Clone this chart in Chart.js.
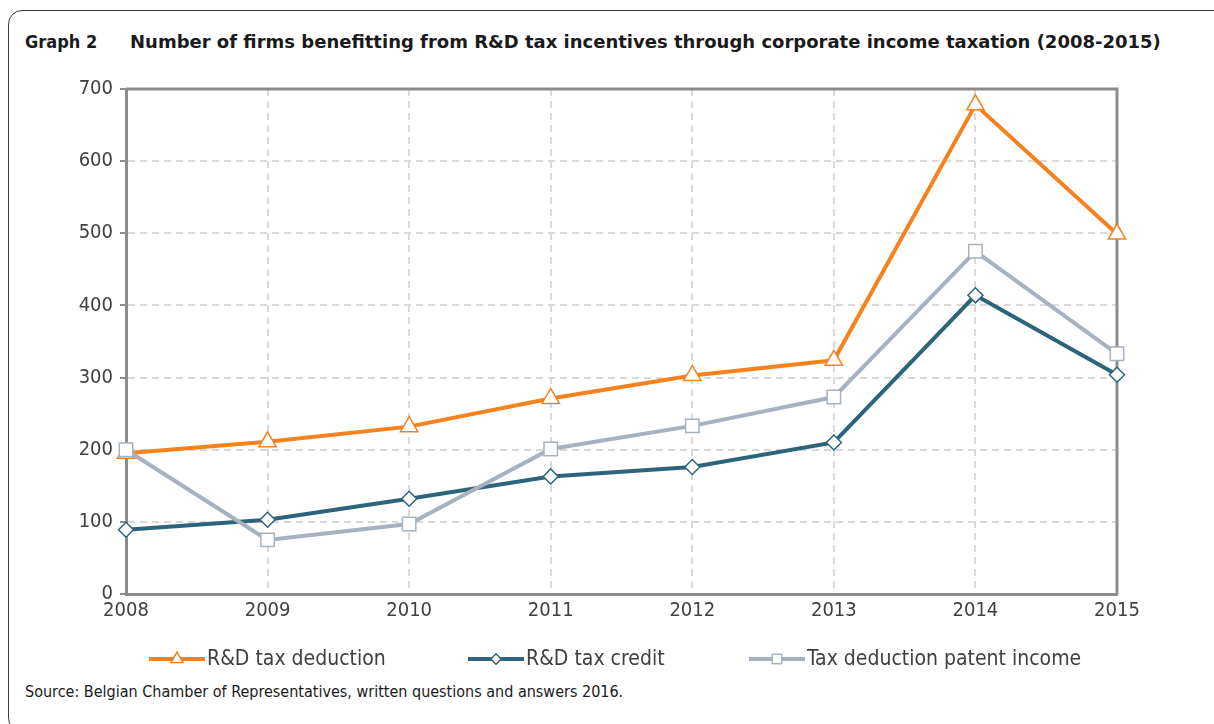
<!DOCTYPE html>
<html>
<head>
<meta charset="utf-8">
<script src="https://cdn.jsdelivr.net/npm/chart.js@4.4.1/dist/chart.umd.min.js"></script>
<style>
  body { margin: 0; background: #fff; }
  #wrap { position: relative; width: 1214px; height: 724px; overflow: hidden; background: #fff; }
  #frame { position: absolute; left: 8px; top: 10px; width: 1220px; height: 722px; border: 1.5px solid #3a3a3a; border-radius: 14px; box-sizing: border-box; }
  #title { position: absolute; left: 25px; top: 31px; font: bold 18px "DejaVu Sans", sans-serif; color: #1a1a1a; white-space: nowrap; }
  #title .num { display: inline-block; width: 105px; font-family: "DejaVu Sans Condensed", "DejaVu Sans", sans-serif; }
  #source { position: absolute; left: 25px; top: 682px; font: 16px "DejaVu Sans Condensed", "DejaVu Sans", sans-serif; color: #1a1a1a; white-space: nowrap; }
  #box { position: absolute; left: 0; top: 70px; width: 1214px; height: 611px; }
</style>
</head>
<body>
<div id="wrap">
  <div id="frame"></div>
  <div id="title"><span class="num">Graph 2</span>Number of firms benefitting from R&amp;D tax incentives through corporate income taxation (2008-2015)</div>
  <div id="box"><canvas id="chart"></canvas></div>
  <div id="source">Source: Belgian Chamber of Representatives, written questions and answers 2016.</div>
</div>
<script>
// data
const years = ['2008', '2009', '2010', '2011', '2012', '2013', '2014', '2015'];
const rdDeduction = [195, 211, 232, 271, 303, 324, 678, 499];
const rdCredit = [89, 103, 132, 163, 176, 210, 414, 304];
const patentIncome = [200, 75, 97, 201, 233, 273, 475, 333];
const seriesNames = ['R&D tax deduction', 'R&D tax credit', 'Tax deduction patent income'];
const yTicks = [0, 100, 200, 300, 400, 500, 600, 700];

const ORANGE = '#F5821F';
const TEAL = '#2C657B';
const GREY = '#A7B2C0';
const AXIS = '#8c8c8c';
const FONT = '"DejaVu Sans Condensed", "DejaVu Sans", sans-serif';

// top and right edge of the plot box
const plotFrame = {
    id: 'plotFrame',
    beforeDatasetsDraw(chart) {
        const a = chart.chartArea;
        const ctx = chart.ctx;
        ctx.save();
        ctx.strokeStyle = AXIS;
        ctx.lineWidth = 3;
        ctx.beginPath();
        ctx.moveTo(a.left, a.top);
        ctx.lineTo(a.right, a.top);
        ctx.lineTo(a.right, a.bottom);
        ctx.stroke();
        ctx.restore();
    }
};

// legend: line swatch with marker, then label
const lineLegend = {
    id: 'lineLegend',
    afterDraw(chart) {
        const ctx = chart.ctx;
        const starts = [149, 468, 749];
        const y = 589;
        ctx.save();
        chart.data.datasets.forEach((ds, i) => {
            const x = starts[i];
            ctx.strokeStyle = ds.borderColor;
            ctx.lineWidth = 4;
            ctx.beginPath();
            ctx.moveTo(x, y);
            ctx.lineTo(x + 56, y);
            ctx.stroke();
            ctx.fillStyle = '#fff';
            ctx.strokeStyle = ds.pointBorderColor;
            ctx.lineWidth = 1.5;
            Chart.helpers.drawPoint(ctx, {
                pointStyle: ds.pointStyle,
                radius: ds.pointRadius * 0.7,
                borderWidth: 1.5,
                rotation: 0
            }, x + 28, y);
            ctx.fillStyle = '#404040';
            ctx.font = '21px ' + FONT;
            ctx.textBaseline = 'middle';
            ctx.textAlign = 'left';
            ctx.fillText(ds.label, x + 58, y + 1);
        });
        ctx.restore();
    }
};

function series(label, values, color, style, radius, order) {
    return {
        label: label,
        data: values,
        borderColor: color,
        borderWidth: 4,
        pointStyle: style,
        pointRadius: radius,
        pointHoverRadius: radius,
        pointBackgroundColor: '#fff',
        pointBorderColor: color,
        pointBorderWidth: 1.5,
        tension: 0,
        order: order
    };
}

const ctx = document.getElementById('chart').getContext('2d');
new Chart(ctx, {
    type: 'line',
    data: {
        labels: years,
        datasets: [
            series(seriesNames[0], rdDeduction, ORANGE, 'triangle', 10, 3),
            series(seriesNames[1], rdCredit, TEAL, 'rectRot', 7.5, 2),
            series(seriesNames[2], patentIncome, GREY, 'rect', 9.5, 1)
        ]
    },
    options: {
        responsive: true,
        maintainAspectRatio: false,
        animation: false,
        layout: { padding: { left: 0, right: 97, top: 15, bottom: 0 } },
        plugins: {
            legend: { display: false },
            tooltip: { enabled: false }
        },
        scales: {
            x: {
                offset: false,
                afterFit(scale) { scale.height = 87; },
                ticks: { color: '#404040', font: { family: FONT, size: 20 }, padding: 5, maxRotation: 0 },
                grid: { color: '#d9d9d9', lineWidth: 2, drawTicks: false },
                border: { display: true, color: AXIS, width: 3, dash: [7, 5] }
            },
            y: {
                min: 0,
                max: 700,
                afterFit(scale) { scale.width = 126; },
                afterBuildTicks(scale) { scale.ticks = yTicks.map(v => ({ value: v })); },
                ticks: { color: '#404040', font: { family: FONT, size: 20 }, padding: 7 },
                grid: { color: '#d9d9d9', lineWidth: 2, tickLength: 6, tickColor: AXIS, tickWidth: 2, tickBorderDash: [] },
                border: { display: true, color: AXIS, width: 3, dash: [7, 5] }
            }
        }
    },
    plugins: [plotFrame, lineLegend]
});
</script>
</body>
</html>
